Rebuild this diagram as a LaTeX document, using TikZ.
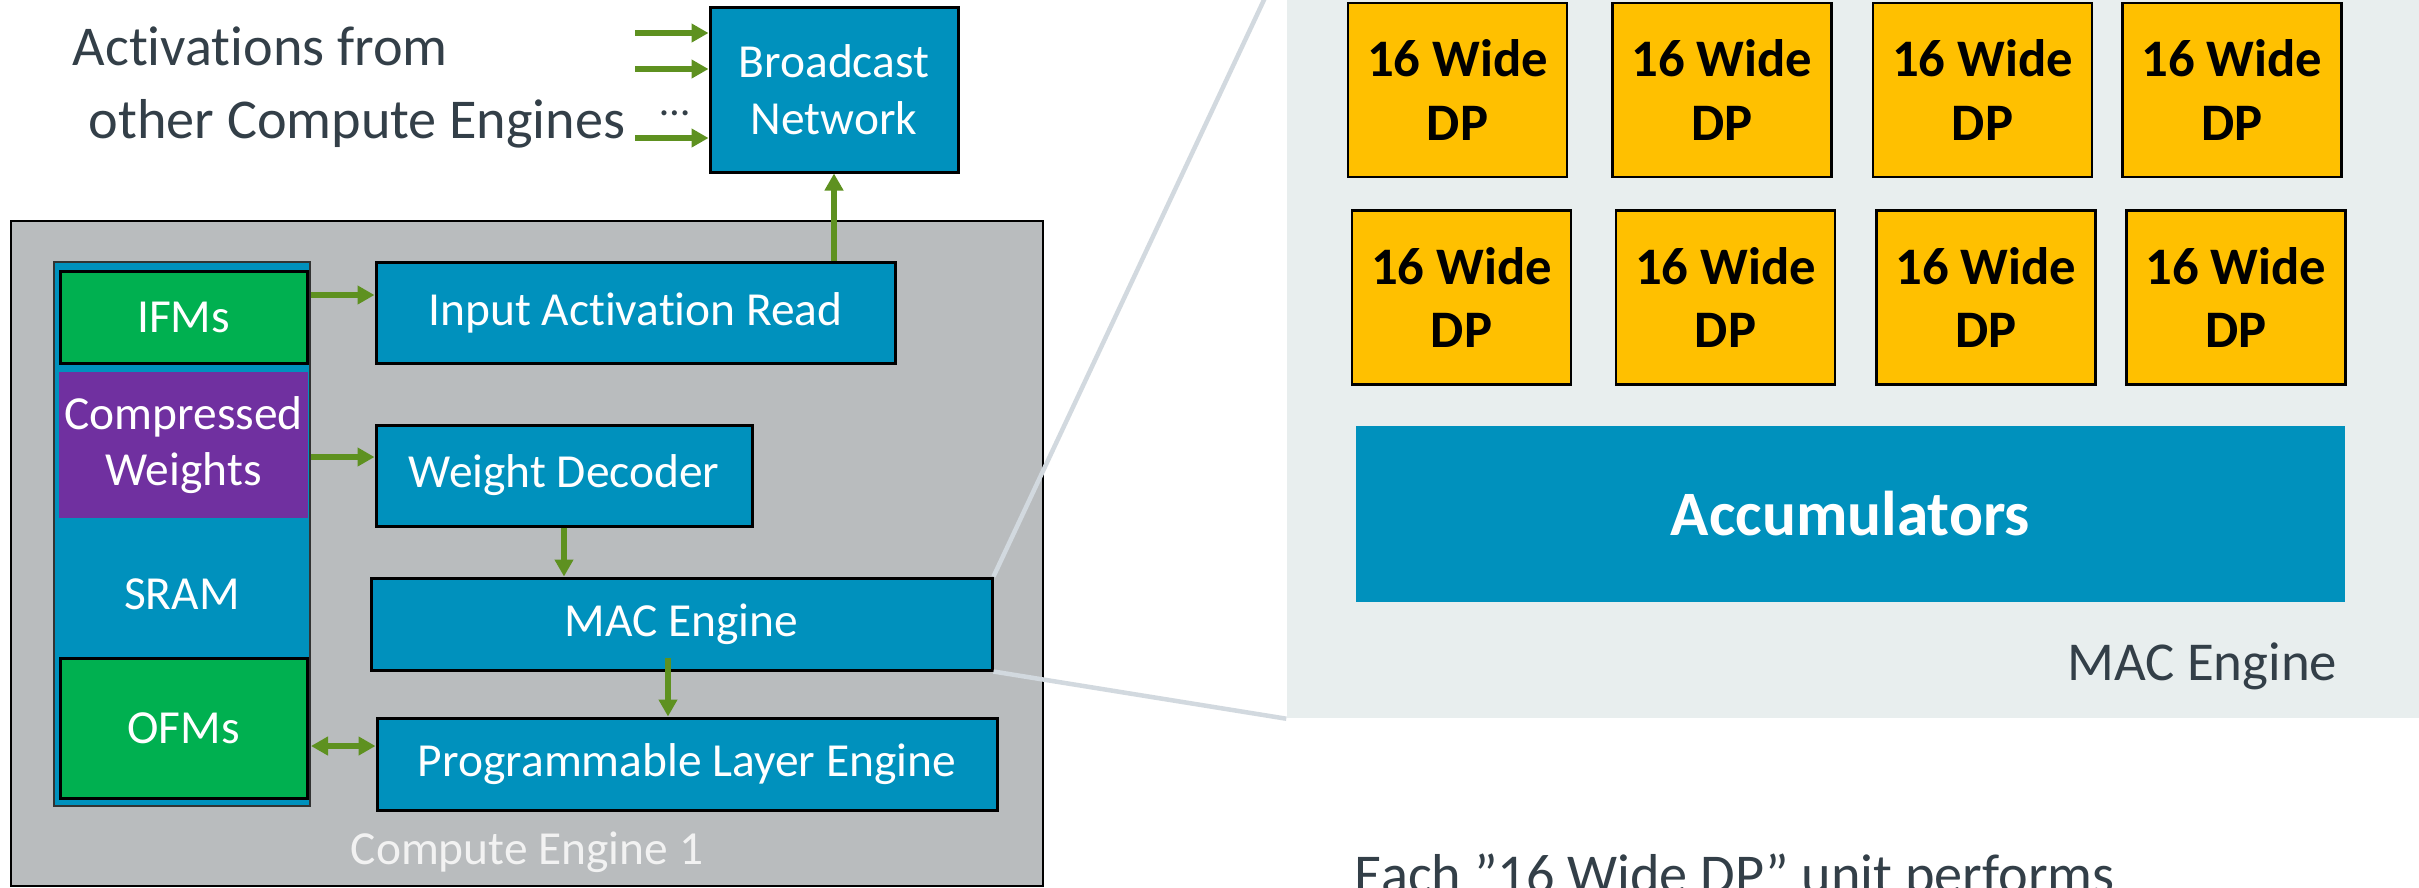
\documentclass[tikz,border=0pt]{standalone}
\usepackage{fontspec}
\setmainfont{Carlito}[Ligatures=NoCommon]
\usetikzlibrary{arrows.meta}
\definecolor{boxblue}{RGB}{0,145,189}
\definecolor{memgreen}{RGB}{0,176,80}
\definecolor{wpurple}{RGB}{112,48,160}
\definecolor{dpgold}{RGB}{255,192,0}
\definecolor{linkgreen}{RGB}{94,145,32}
\definecolor{cegray}{RGB}{185,188,190}
\definecolor{panelgray}{RGB}{232,238,238}
\definecolor{zoomgray}{RGB}{210,217,223}
\definecolor{slate}{RGB}{51,63,72}

\begin{document}
\begin{tikzpicture}[
  x=0.1mm, y=-0.1mm,
  >={Triangle[length=1.7mm,width=1.8mm]},
  unit/.style={draw=black, fill=boxblue, text=white, line width=0.3mm,
               inner sep=0pt, align=center,
               font=\fontsize{13.5}{16.1}\selectfont},
  mem/.style={unit, fill=memgreen},
  dpbox/.style={draw=black, fill=dpgold, line width=0.25mm,
                minimum width=21.9mm, minimum height=17.4mm, inner sep=0pt,
                align=center, font=\fontsize{15}{18.2}\selectfont\bfseries},
  link/.style={draw=linkgreen, line width=0.55mm, ->},
  zoomline/.style={draw=zoomgray, line width=0.45mm},
  note/.style={text=slate, inner sep=0pt, font=\fontsize{16}{20}\selectfont}
]
  \useasboundingbox (0,0) rectangle (2419,887);
  \clip (0,0) rectangle (2419,887);
  \fill[white] (0,0) rectangle (2419,887);

  \node[fill=panelgray, minimum width=114mm, minimum height=76.5mm,
        inner sep=0pt] (panel) at (1857,335.5) {};

  \node[note, anchor=base west] (act1) at (72,65) {Activations from};
  \node[note, anchor=base west] (act2) at (88,138) {other Compute Engines};
  \node[note, anchor=base, font=\fontsize{12}{14}\selectfont] (dots) at (675,115) {…};

  \node[unit, minimum width=24.8mm, minimum height=16.5mm] (bcast) at (834,89.5) {Broadcast\\Network};

  \node[draw=black, fill=cegray, line width=0.25mm, minimum width=103.2mm,
        minimum height=66.5mm, inner sep=0pt] (ce) at (527,553.5) {};
  \node[text=white!95!black, inner sep=0pt, font=\fontsize{13.5}{16}\selectfont] (celabel) at (527,852) {Compute Engine 1};

  \node[draw=black!80, fill=boxblue, line width=0.2mm, minimum width=25.6mm,
        minimum height=54.4mm, inner sep=0pt] (sram) at (182,534) {};
  \node[text=white, inner sep=0pt, font=\fontsize{13.5}{16}\selectfont] (sramlabel) at (182,594) {SRAM};
  \node[mem, minimum width=24.7mm, minimum height=9.2mm] (ifm) at (183.5,317) {IFMs};
  \node[unit, draw=none, fill=wpurple, minimum width=24.9mm, minimum height=14.6mm] (cw) at (183.5,445) {Compressed\\Weights};
  \node[mem, minimum width=24.7mm, minimum height=14mm] (ofm) at (183.5,728) {OFMs};

  \node[unit, minimum width=51.9mm, minimum height=10.1mm] (iar) at (635.5,312.5) {Input Activation Read};
  \node[unit, minimum width=37.6mm, minimum height=10.1mm] (wd) at (564,475.5) {Weight Decoder};
  \node[unit, minimum width=62.1mm, minimum height=9.2mm] (mac) at (681.5,624) {MAC Engine};
  \node[unit, minimum width=62mm, minimum height=9.2mm] (ple) at (687,764) {Programmable Layer Engine};

  \foreach \k/\y in {1/33,2/69,3/138} {
    \coordinate (in\k) at (635,\y);
    \draw[link] (in\k) -- (in\k -| bcast.west);
  }
  \draw[link] (bcast.south |- iar.north) -- (bcast.south);
  \draw[link] ([yshift=2.2mm]sram.east |- ifm.east) -- ([yshift=2.2mm]iar.west |- ifm.east);
  \draw[link] ([yshift=-1.2mm]sram.east |- cw.east) -- ([yshift=-1.2mm]wd.west |- cw.east);
  \draw[link] (wd.south) -- (wd.south |- mac.north);
  \draw[link] ([xshift=-1.35mm,yshift=1.4mm]mac.south) -- ([xshift=-1.35mm]mac.south |- ple.north);
  \draw[link, <->] ([yshift=-1.8mm]sram.east |- ofm.east) -- ([yshift=-1.8mm]ple.west |- ofm.east);

  \draw[zoomline] (mac.north east) -- (panel.north west);
  \draw[zoomline] (mac.south east) -- (panel.south west);

  \foreach \i/\x in {1/1457.5,2/1722,3/1982.5,4/2232}
    \node[dpbox] (dpa\i) at (\x,90) {16 Wide\\DP};
  \foreach \i/\x in {1/1461.5,2/1725.5,3/1986,4/2236}
    \node[dpbox] (dpb\i) at (\x,297.5) {16 Wide\\DP};

  \node[fill=boxblue, text=white, minimum width=98.9mm, minimum height=17.6mm,
        inner sep=0pt, font=\fontsize{18}{22}\selectfont\bfseries] (acc) at (1850.5,514) {Accumulators};
  \node[note, anchor=east, font=\fontsize{15.6}{19}\selectfont] (maclabel) at (2338,666) {MAC Engine};
  \node[note, anchor=base west] (each) at (1354,893) {Each ”16 Wide DP” unit performs};
\end{tikzpicture}
\end{document}
